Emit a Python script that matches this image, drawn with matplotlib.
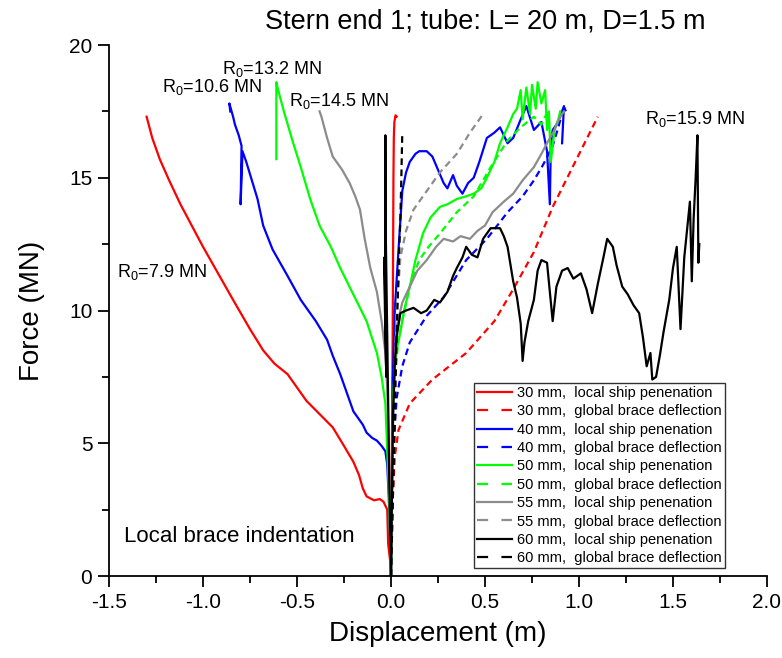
"""
Stern end 1 collision: force vs. displacement for a 20 m long, 1.5 m diameter
brace tube, for five wall thicknesses. Negative displacement = local brace
indentation, positive = local ship penetration / global brace deflection.
"""

import matplotlib
matplotlib.use("Agg")
import matplotlib.pyplot as plt
import matplotlib.ticker as ticker
from matplotlib.lines import Line2D

plt.rcParams["font.family"] = ["Liberation Sans", "DejaVu Sans"]

# ---- data (displacement in m, force in MN) ---------------------------------
# 30 mm
x30_brace = [0, -0.005, -0.015, -0.02, -0.04, -0.06, -0.09, -0.13, -0.15, -0.17,
             -0.20, -0.25, -0.31, -0.38, -0.45, -0.50, -0.55, -0.62, -0.68, -0.75,
             -0.84, -0.92, -1.00, -1.06, -1.12, -1.18, -1.23, -1.27, -1.30]
f30_brace = [0, 0.6, 1.2, 2.5, 2.8, 2.9, 2.85, 3.0, 3.3, 3.8,
             4.3, 4.9, 5.6, 6.1, 6.6, 7.1, 7.6, 8.0, 8.5, 9.3,
             10.4, 11.4, 12.4, 13.2, 14.0, 14.9, 15.7, 16.5, 17.3]
x30_ship = [0, 0.004, 0.008, 0.011, 0.013, 0.015, 0.018, 0.024, 0.03]
f30_ship = [0, 4, 8, 12, 15, 16.5, 17.1, 17.35, 17.3]
x30_glob = [0, 0.01, 0.02, 0.04, 0.10, 0.22, 0.40, 0.55, 0.65, 0.76, 0.86, 0.98, 1.10]
f30_glob = [0, 3.0, 4.5, 5.5, 6.5, 7.4, 8.4, 9.6, 10.8, 12.2, 13.9, 15.6, 17.3]

# 40 mm
x40_brace = [0, -0.005, -0.012, -0.02, -0.03, -0.05, -0.075, -0.10, -0.13, -0.15,
             -0.18, -0.20, -0.24, -0.27, -0.31, -0.34, -0.40, -0.48, -0.55, -0.63,
             -0.68, -0.71, -0.74, -0.77, -0.79, -0.80, -0.795, -0.81, -0.83, -0.84,
             -0.86, -0.855]
f40_brace = [0, 1.5, 3.0, 4.2, 4.7, 4.9, 5.1, 5.2, 5.4, 5.7,
             6.0, 6.2, 7.0, 7.6, 8.3, 8.9, 9.6, 10.4, 11.3, 12.3,
             13.2, 14.2, 14.9, 15.6, 16.0, 14.0, 16.2, 16.6, 17.0, 17.3,
             17.8, 17.5]
x40_ship = [0, 0.005, 0.01, 0.02, 0.04, 0.06, 0.08, 0.10, 0.13, 0.15,
            0.19, 0.22, 0.25, 0.28, 0.30, 0.33, 0.35, 0.38, 0.41, 0.44,
            0.47, 0.51, 0.55, 0.58, 0.62, 0.65, 0.69, 0.72, 0.76, 0.80,
            0.83, 0.845, 0.85, 0.86, 0.88, 0.90, 0.92, 0.91]
f40_ship = [0, 3, 7.4, 10, 12.3, 14.5, 15.2, 15.6, 15.9, 16.0,
            16.0, 15.8, 15.3, 14.8, 14.6, 15.1, 14.7, 14.4, 14.8, 15.0,
            15.6, 16.5, 16.7, 16.9, 16.3, 16.5, 17.2, 17.7, 16.8, 17.1,
            16.0, 14.0, 16.2, 16.8, 17.0, 17.3, 17.7, 16.3]
x40_glob = [0, 0.005, 0.01, 0.02, 0.03, 0.06, 0.10, 0.19, 0.28, 0.40,
            0.51, 0.62, 0.70, 0.76, 0.81, 0.86, 0.89, 0.92, 0.93]
f40_glob = [0, 2.5, 4.0, 5.6, 6.7, 7.9, 8.8, 9.8, 10.5, 11.9,
            12.7, 13.7, 14.3, 14.9, 15.5, 16.2, 16.9, 17.7, 17.5]

# 50 mm
x50_brace = [0, -0.01, -0.03, -0.05, -0.075, -0.13, -0.20, -0.27, -0.32, -0.38,
             -0.43, -0.48, -0.52, -0.57, -0.60, -0.61, -0.61]
f50_brace = [0, 3.0, 6.5, 7.5, 8.4, 9.6, 10.6, 11.6, 12.4, 13.2,
             14.2, 15.4, 16.3, 17.5, 18.3, 18.6, 15.7]
x50_ship = [0, 0.005, 0.01, 0.02, 0.03, 0.05, 0.07, 0.10, 0.13, 0.17,
            0.21, 0.26, 0.30, 0.35, 0.40, 0.44, 0.48, 0.51, 0.55, 0.58,
            0.62, 0.65, 0.67, 0.69, 0.70, 0.72, 0.74, 0.75, 0.77, 0.78,
            0.80, 0.82, 0.83, 0.84, 0.85, 0.87, 0.89, 0.90]
f50_ship = [0, 3, 6.6, 7.8, 8.5, 9.2, 10.0, 10.9, 11.9, 12.9,
            13.5, 13.9, 14.0, 14.2, 14.3, 14.4, 14.6, 15.0, 15.6, 16.3,
            16.9, 17.4, 17.6, 18.3, 17.2, 18.4, 17.4, 18.5, 17.6, 18.6,
            17.8, 18.3, 16.8, 17.5, 15.6, 16.8, 17.2, 17.5]
x50_glob = [0, 0.005, 0.01, 0.02, 0.04, 0.065, 0.10, 0.15, 0.20, 0.26,
            0.35, 0.44, 0.53, 0.62, 0.69, 0.76, 0.80, 0.84]
f50_glob = [0, 3, 5.5, 7.5, 8.9, 9.8, 10.9, 11.9, 12.4, 12.9,
            13.7, 14.3, 15.4, 16.4, 16.9, 17.3, 17.0, 17.6]

# 55 mm
x55_brace = [0, -0.005, -0.01, -0.02, -0.03, -0.05, -0.075, -0.11, -0.14, -0.165,
             -0.19, -0.22, -0.26, -0.31, -0.34, -0.37, -0.38]
f55_brace = [0, 2, 4.5, 7, 8.4, 9.6, 10.7, 11.6, 12.7, 13.8,
             14.3, 14.8, 15.3, 15.8, 16.5, 17.3, 17.5]
x55_ship = [0, 0.005, 0.01, 0.02, 0.03, 0.06, 0.10, 0.14, 0.19, 0.24,
            0.28, 0.33, 0.37, 0.42, 0.46, 0.50, 0.54, 0.60, 0.65, 0.70,
            0.76, 0.80, 0.83, 0.87, 0.90, 0.92]
f55_ship = [0, 3, 5.5, 7.8, 9.4, 10.3, 10.9, 11.5, 11.9, 12.4,
            12.7, 12.6, 12.8, 12.7, 13.0, 13.2, 13.7, 14.1, 14.4, 14.9,
            15.4, 15.9, 16.3, 16.8, 17.3, 17.5]
x55_glob = [0, 0.005, 0.01, 0.02, 0.03, 0.05, 0.08, 0.12, 0.19, 0.26, 0.35, 0.42, 0.49]
f55_glob = [0, 3, 5.5, 8, 10, 12.0, 13.0, 13.8, 14.5, 15.2, 15.9, 16.7, 17.4]

# 60 mm
x60_brace = [0, -0.01, -0.02, -0.028, -0.03, -0.032, -0.025, -0.035, -0.03]
f60_brace = [0, 4, 9, 13, 16.6, 10, 7.5, 12, 9]
x60_ship = [0, 0.005, 0.01, 0.02, 0.03, 0.05, 0.08, 0.12, 0.16, 0.19,
            0.23, 0.26, 0.30, 0.33, 0.35, 0.38, 0.40, 0.43, 0.46, 0.49,
            0.53, 0.58, 0.60, 0.62, 0.65, 0.67, 0.69, 0.70, 0.71, 0.73,
            0.76, 0.78, 0.80, 0.83, 0.86, 0.88, 0.91, 0.94, 0.97, 1.01,
            1.04, 1.07, 1.10, 1.13, 1.15, 1.18, 1.20, 1.23, 1.26, 1.29,
            1.32, 1.34, 1.36, 1.38, 1.39, 1.41, 1.43, 1.45, 1.48, 1.50,
            1.52, 1.54, 1.56, 1.59, 1.60, 1.61, 1.62, 1.63, 1.635, 1.64]
f60_ship = [0, 3, 6, 8, 9.0, 9.9, 10.0, 10.1, 9.9, 10.0,
            10.4, 10.3, 10.7, 11.3, 11.6, 12.0, 12.4, 12.1, 12.0, 12.7,
            13.1, 13.1, 12.8, 12.4, 11.1, 10.5, 9.5, 8.1, 8.8, 9.6,
            10.4, 11.5, 11.9, 11.8, 9.6, 10.9, 11.5, 11.6, 11.2, 11.4,
            10.8, 9.9, 11.0, 12.0, 12.7, 12.4, 11.7, 10.9, 10.6, 10.2,
            9.9, 9.0, 7.9, 8.4, 7.4, 7.5, 8.3, 9.2, 10.4, 11.6,
            12.4, 9.3, 12.0, 14.1, 11.1, 13.5, 14.9, 16.6, 11.8, 12.5]
x60_glob = [0, 0.01, 0.02, 0.03, 0.04, 0.05, 0.055, 0.06]
f60_glob = [0, 3, 6, 9, 11.5, 13.5, 15, 16.7]

thickness = ["30", "40", "50", "55", "60"]
colors = ["#FF0000", "#0000FF", "#00FF00", "#8C8C8C", "#000000"]

brace = [(x30_brace, f30_brace), (x40_brace, f40_brace), (x50_brace, f50_brace),
         (x55_brace, f55_brace), (x60_brace, f60_brace)]
ship = [(x30_ship, f30_ship), (x40_ship, f40_ship), (x50_ship, f50_ship),
        (x55_ship, f55_ship), (x60_ship, f60_ship)]
glob = [(x30_glob, f30_glob), (x40_glob, f40_glob), (x50_glob, f50_glob),
        (x55_glob, f55_glob), (x60_glob, f60_glob)]

# R0 labels: (text, x, y)
r0_labels = [("7.9", -1.46, 11.45), ("10.6", -1.22, 18.4), ("13.2", -0.90, 19.1),
             ("14.5", -0.54, 17.9), ("15.9", 1.35, 17.2)]

fig = plt.figure(figsize=(7.82, 6.58), dpi=100)
ax = fig.add_axes([0.1394, 0.1246, 0.8414, 0.807])

handles = []
for t, c, b, s, g in zip(thickness, colors, brace, ship, glob):
    ax.plot(b[0], b[1], color=c, lw=1.6)
    ax.plot(s[0], s[1], color=c, lw=1.6)
    ax.plot(g[0], g[1], color=c, lw=1.6, dashes=(3, 2))
    handles.append(Line2D([], [], color=c, lw=1.6,
                          label=f"{t} mm,  local ship penenation"))
    handles.append(Line2D([], [], color=c, lw=1.6, dashes=(5, 6),
                          label=f"{t} mm,  global brace deflection"))

for val, x, y in r0_labels:
    ax.text(x, y, r"R$_\mathregular{0}$=" + val + " MN", fontsize=13,
            va="center", ha="left")
ax.text(-1.42, 1.47, "Local brace indentation", fontsize=16, va="center")

ax.set_xlim(-1.5, 2.0)
ax.set_ylim(0, 20)
ax.xaxis.set_major_locator(ticker.MultipleLocator(0.5))
ax.xaxis.set_minor_locator(ticker.MultipleLocator(0.25))
ax.yaxis.set_major_locator(ticker.MultipleLocator(5))
ax.yaxis.set_minor_locator(ticker.MultipleLocator(2.5))
ax.xaxis.set_major_formatter(ticker.FormatStrFormatter("%.1f"))
ax.tick_params(which="major", direction="out", length=8, width=1.3,
               labelsize=15, pad=4)
ax.tick_params(which="minor", direction="out", length=5, width=1.3)
for side in ("top", "right"):
    ax.spines[side].set_visible(False)
for side in ("left", "bottom"):
    ax.spines[side].set_linewidth(1.3)

ax.set_xlabel("Displacement (m)", fontsize=20, labelpad=7)
ax.set_ylabel("Force (MN)", fontsize=20, labelpad=17)
fig.text(0.62, 0.967, "Stern end 1; tube: L= 20 m, D=1.5 m", fontsize=19.5,
         ha="center", va="center")

leg = ax.legend(handles=handles, loc="upper left", bbox_to_anchor=(0.5547, 0.3635),
                borderaxespad=0, fontsize=10.5, labelspacing=0.3,
                handlelength=2.4, handletextpad=0.35, borderpad=0.2,
                fancybox=False, framealpha=1)
leg.get_frame().set_edgecolor("#333333")
leg.get_frame().set_linewidth(1.0)

fig.savefig("out.png", dpi=100)
